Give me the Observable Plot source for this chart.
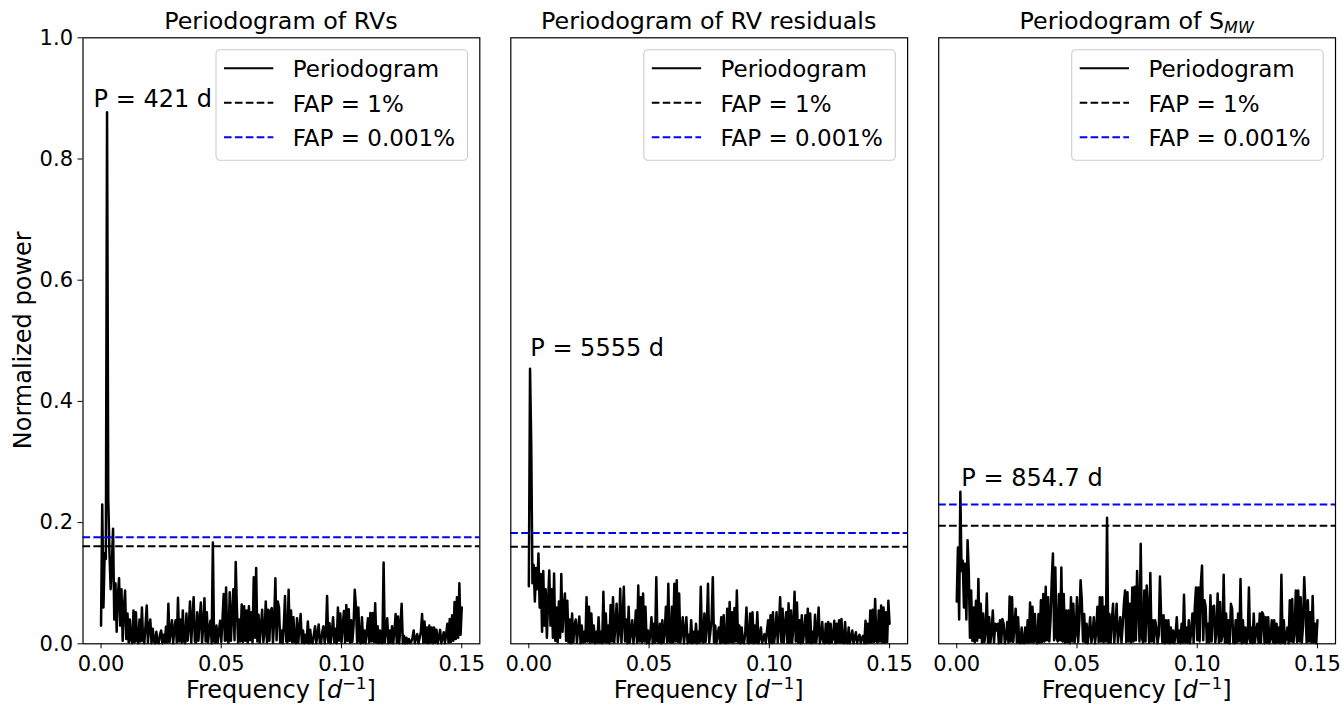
<!DOCTYPE html>
<html>
<head>
<meta charset="utf-8">
<script src="https://cdn.jsdelivr.net/npm/d3@7"></script>
<script src="https://cdn.jsdelivr.net/npm/@observablehq/plot@0.6"></script>
<style>
html, body { margin: 0; padding: 0; background: #fff; }
#chart { position: relative; width: 1341px; height: 704px; font-family: "DejaVu Sans", sans-serif; }
#chart svg { position: absolute; top: 0; background: transparent !important; overflow: visible; }
</style>
</head>
<body>
<div id="chart"></div>
<script>
// ---------------- data ----------------
const freqStep = 0.0005;           // spacing of the frequency grid [1/d]
// normalized power in percent, one value per grid frequency (0 ... 0.15)
const powerRV = [
3, 23, 6, 15, 14, 87.7, 24, 15, 9, 13,
19, 4, 10, 2, 8, 10.8, 3, 9, 0.5, 6,
8.8, 0.8, 5, 0.2, 4, 0.6, 0.1, 5.5, 0.3, 5.2,
0.5, 0.1, 4, 0.4, 6, 0.5, 0.1, 3, 6.3, 0.2,
3, 4, 0.1, 2.5, 0.4, 0.1, 2, 0.2, 0.1, 1.5,
2.2, 0.1, 1.5, 0.2, 2.8, 0.2, 6.6, 0.3, 2, 3.9,
0.1, 2.5, 3.9, 0.2, 7.6, 0.4, 4, 0.2, 5.5, 0.4,
0.1, 5, 0.5, 3, 7, 0.2, 4, 7.7, 0.4, 0.2,
5.2, 0.5, 4, 6.8, 0.2, 3, 7.5, 0.4, 5.2, 0.2,
2.5, 3.8, 0.1, 16.7, 0.4, 0.2, 3, 0.2, 2, 3.8,
0.3, 4, 8.2, 0.5, 9.3, 0.6, 0.2, 8.5, 0.5, 5,
9, 0.6, 13.5, 5.8, 0.2, 4, 0.4, 6.5, 0.3, 6.2,
0.5, 5.5, 0.2, 6.2, 0.6, 5.2, 0.2, 11, 1, 12.5,
0.4, 4.8, 0.2, 3, 5.6, 0.3, 2, 7, 0.2, 5.6,
0.5, 5.4, 5.9, 0.2, 4, 10.8, 0.6, 7, 6, 0.2,
2.2, 0.1, 3, 7.9, 0.4, 0.2, 8.9, 0.5, 5.5, 0.2,
4.4, 0.3, 0.1, 4.2, 0.2, 2.5, 4.9, 0.2, 2.2, 0.1,
1.5, 0.2, 3.7, 0.1, 2.3, 0.2, 0.1, 1.5, 2.9, 0.1,
1.5, 3.2, 0.2, 0.1, 2, 2.9, 0.1, 1.5, 7.9, 0.2,
3.4, 0.1, 2, 4.4, 0.2, 2.5, 0.1, 6, 0.5, 5,
0.2, 3, 5.4, 0.2, 6.4, 0.5, 5.7, 0.2, 3.9, 0.3,
3, 8.9, 6.2, 0.2, 6, 0.4, 0.1, 4.4, 0.2, 2.2,
0.1, 2, 4.2, 0.2, 5.1, 0.4, 5.1, 0.3, 6.7, 0.2,
2.9, 0.1, 2.2, 0.2, 0.1, 13.4, 0.2, 2, 4.2, 0.1,
2.2, 0.2, 2.9, 0.1, 2, 4.9, 0.2, 4.5, 0.1, 3,
6.6, 0.1, 1.3, 0.1, 1, 0.1, 0.8, 0.1, 0.3, 1,
2.2, 0.1, 1, 1.6, 0.1, 1, 2, 4.9, 0.2, 3.7,
0.2, 2.7, 0.1, 3, 0.2, 2.7, 0.1, 2.7, 0.2, 2.3,
0.1, 1, 2.3, 0.1, 1, 1.9, 0.1, 1.5, 3.3, 0.2,
4.1, 0.3, 4.7, 0.5, 6.9, 0.8, 7.7, 1, 10, 1.5, 6
];
const powerResid = [
9.5, 45.4, 32.7, 10, 13, 7, 12.5, 9, 14.9, 6,
11.5, 2, 12, 3, 9, 1, 7, 12.1, 3, 9,
1, 11.6, 0.5, 6, 0.2, 7, 1, 11.5, 2, 6,
8.3, 0.5, 7.1, 0.2, 4, 0.1, 5, 0.2, 3, 4,
0.2, 2.5, 4.5, 0.1, 3, 0.2, 2, 0.3, 7.7, 0.4,
6.1, 0.2, 5, 0.3, 3, 0.1, 2, 0.2, 4.4, 0.2,
2, 0.1, 8.6, 0.3, 5, 0.2, 3, 0.1, 6.4, 0.4,
7.7, 0.2, 3, 6.6, 0.3, 2, 9.1, 0.2, 4, 9.4,
0.4, 4, 0.1, 6.1, 0.2, 2, 3.9, 0.1, 2, 5.5,
0.2, 9.6, 0.4, 7.7, 0.2, 8.3, 0.4, 6.1, 0.1, 2.2,
0.1, 1.5, 4.4, 0.1, 3.3, 0.2, 11, 0.4, 0.2, 3.3,
0.1, 3.9, 0.2, 2, 6.1, 0.2, 9.9, 0.4, 0.2, 6.1,
0.2, 9.9, 0.4, 10.5, 0.3, 8.3, 0.2, 2, 4.4, 0.1,
2, 4.4, 0.1, 1.5, 0.2, 3.9, 0.1, 2, 0.2, 3.3,
0.1, 2, 0.2, 9.4, 0.4, 0.2, 5, 0.3, 3, 9.9,
0.2, 2, 4, 11, 0.2, 3, 0.1, 1.5, 2.7, 0.1,
4.4, 0.2, 4.7, 0.2, 0.1, 5.8, 0.2, 6.9, 0.3, 5.2,
0.2, 5.9, 0.4, 8.8, 0.2, 3, 0.1, 2.7, 0.2, 0.1,
2, 6, 0.2, 0.1, 5, 0.2, 5.2, 0.1, 3, 0.2,
5.2, 0.1, 1, 2.7, 0.1, 1, 1.6, 0.1, 2, 3.9,
0.2, 4.7, 0.1, 5.2, 0.2, 2, 5.2, 0.2, 3, 7.7,
0.3, 5.8, 0.2, 3, 5.2, 0.2, 6.7, 0.2, 5.5, 0.2,
3, 8.6, 0.4, 6.8, 0.2, 3.9, 0.1, 4.7, 0.2, 2,
4.7, 0.2, 5.8, 0.2, 5, 0.1, 2, 0.2, 4.8, 0.2,
2, 6, 0.1, 1, 3.6, 0.2, 0.1, 3.3, 0.2, 3.6,
0.1, 3.3, 0.2, 1, 3.8, 0.1, 3.3, 0.2, 3.9, 0.2,
4.1, 0.2, 0.1, 3.6, 0.2, 0.1, 2.7, 0.1, 1, 2.2,
0.1, 1, 1.9, 0.1, 1, 1.5, 0.1, 1, 1.3, 0.1,
3.8, 0.1, 3.3, 0.2, 5.5, 0.2, 5.6, 0.3, 7.4, 0.4,
0.2, 5.5, 0.4, 6.3, 0.2, 6, 0.2, 5.2, 0.3, 7.1, 3.3
];
const powerSMW = [
7, 15.9, 4, 25.1, 12, 13.7, 6, 13.2, 4, 17.1,
12.1, 1, 8.8, 0.5, 6, 0.2, 7.1, 0.5, 10.7, 1,
6.6, 0.2, 5, 0.3, 2, 8.3, 0.2, 4.4, 0.2, 2,
5.5, 0.2, 3.3, 2.2, 3.3, 0.1, 3.9, 0.2, 4.1, 3.3,
0.1, 1, 3.6, 0.2, 7.8, 0.4, 7.7, 0.3, 3, 5.8,
0.2, 4.4, 0.2, 0.1, 2.7, 0.2, 0.1, 2.7, 0.2, 3.9,
0.2, 6.8, 0.3, 6.1, 0.2, 4.9, 0.4, 0.1, 4.9, 0.2,
7.2, 0.3, 8.2, 0.4, 9.4, 0.6, 7.7, 0.4, 4, 10.5,
14.9, 0.6, 12.6, 1, 0.4, 8.2, 0.6, 12.6, 0.4, 8.2,
0.2, 5.5, 0.3, 5.5, 0.1, 7.7, 0.4, 6.6, 0.2, 2,
7.7, 0.3, 4, 10.5, 7.2, 0.4, 4.9, 0.2, 3.3, 0.1,
2, 4.4, 0.2, 1.5, 4.4, 0.1, 2, 6.1, 0.3, 7.7,
0.4, 7.7, 0.2, 6.1, 0.4, 20.8, 0.2, 4.9, 0.2, 3.9,
6.6, 0.2, 3, 6.6, 0.3, 2, 4.4, 0.2, 3, 6.6,
8.8, 0.3, 8.5, 0.4, 6.6, 0.2, 9.3, 0.4, 9.4, 0.6,
12, 6.1, 0.4, 16.5, 1, 0.2, 8.8, 0.4, 9.6, 5.8,
0.2, 11.7, 0.4, 3.9, 0.2, 3.9, 2.7, 0.1, 1.5, 11.1,
4.4, 0.2, 4.7, 0.1, 3.9, 0.2, 3.9, 0.1, 2.7, 0.2,
2.2, 0.1, 1.5, 4.4, 0.2, 2.2, 0.1, 3.3, 0.2, 8.1,
0.2, 2.7, 0.2, 3.9, 0.1, 2, 5, 0.2, 6.1, 9.3,
0.6, 9.3, 0.4, 9.9, 12.9, 0.6, 7.2, 6.1, 0.2, 3.3,
0.2, 8, 0.4, 6.1, 6.3, 0.2, 2, 8.3, 0.2, 6.9,
0.4, 1.5, 11.4, 0.2, 5, 0.2, 3.9, 0.1, 6.6, 5.8,
0.2, 0.1, 3.9, 0.2, 5, 0.4, 10.7, 0.1, 3.9, 0.2,
2.7, 0.1, 1, 9.3, 0.2, 2.7, 0.1, 5, 0.2, 2,
3.3, 0.2, 5, 0.2, 5.2, 4.7, 0.1, 4.4, 0.2, 4.4,
0.1, 1, 3.9, 0.2, 3.9, 0.1, 3.3, 0.2, 2.7, 0.1,
11.4, 0.2, 3.9, 0.1, 1, 2.7, 0.1, 7.2, 0.4, 7.4,
0.2, 2, 8.8, 0.3, 8.8, 0.4, 7.7, 0.2, 3, 11,
6.1, 0.2, 7.2, 0.4, 5.2, 0.2, 7.9, 0.2, 3.3, 0.1, 3.9
];
const fap1pct   = [0.161, 0.160, 0.195];   // FAP = 1% levels
const fap1e5    = [0.176, 0.183, 0.230];   // FAP = 0.001% levels
const peakText  = ["P = 421 d", "P = 5555 d", "P = 854.7 d"];
const peakTextFreq  = [-0.0031, 0.0006, 0.0019];
const peakTextPower = [0.885, 0.475, 0.261];
const titleMain = ["Periodogram of RVs", "Periodogram of RV residuals", "Periodogram of S"];
const titleSub  = ["", "", "MW"];
const legendLabels = ["Periodogram", "FAP = 1%", "FAP = 0.001%"];
const xTicks = [0, 0.05, 0.10, 0.15];
const yTicks = [0, 0.2, 0.4, 0.6, 0.8, 1.0];
const xDomain = [-0.0075, 0.1575];
const yDomain = [0, 1];

// ---------------- layout ----------------
const FONT = "DejaVu Sans";
const H = 704, TOP = 37.3, BOTTOM = 643.3;
const panels = [
  {left: 0,   width: 490, frameL: 82.5,  frameR: 479.3, power: powerRV},
  {left: 490, width: 422, frameL: 510.3, frameR: 907.1, power: powerResid},
  {left: 912, width: 429, frameL: 938.2, frameR: 1335,  power: powerSMW}
];

const chart = document.getElementById("chart");

panels.forEach((p, k) => {
  const data = p.power.map((v, i) => ({freq: i * freqStep, power: v / 100}));
  const mL = p.frameL - p.left, mR = p.left + p.width - p.frameR;
  const marks = [
    Plot.line(data, {x: "freq", y: "power", stroke: "black", strokeWidth: 2.5, strokeLinejoin: "round"}),
    Plot.ruleY([fap1pct[k]], {stroke: "black", strokeWidth: 2, strokeDasharray: "7.6,3.3"}),
    Plot.ruleY([fap1e5[k]], {stroke: "blue", strokeWidth: 2, strokeDasharray: "7.6,3.3"}),
    Plot.text([0], {x: () => peakTextFreq[k], y: () => peakTextPower[k], text: () => peakText[k],
      textAnchor: "start", lineAnchor: "bottom", fontSize: 24, fill: "black"}),
    Plot.axisX({ticks: xTicks, tickFormat: d3.format(".2f"), tickSize: 5, tickPadding: 7,
      label: null, fontSize: 21, stroke: "black"}),
    Plot.frame({stroke: "black", strokeWidth: 1.2})
  ];
  if (k === 0) {
    marks.push(Plot.axisY({ticks: yTicks, tickFormat: d3.format(".1f"), tickSize: 5, tickPadding: 5,
      label: null, fontSize: 21, stroke: "black"}));
  }
  const svg = Plot.plot({
    width: p.width, height: H,
    marginLeft: mL, marginRight: mR, marginTop: TOP, marginBottom: H - BOTTOM,
    x: {domain: xDomain},
    y: {domain: yDomain, axis: k === 0 ? undefined : null},
    style: {fontFamily: FONT, fontSize: "21px", color: "black", background: "transparent", overflow: "visible"},
    marks
  });
  svg.style.left = p.left + "px";
  chart.appendChild(svg);

  const s = d3.select(svg);
  const cx = (p.frameL + p.frameR) / 2 - p.left;

  // title
  const t = s.append("text").attr("x", cx).attr("y", 29.3).attr("text-anchor", "middle")
    .attr("font-family", FONT).attr("font-size", 23.8).attr("fill", "black");
  t.append("tspan").text(titleMain[k]);
  if (titleSub[k]) {
    t.append("tspan").attr("dy", 4).attr("font-size", 16).attr("font-style", "italic").text(titleSub[k]);
  }

  // x label: Frequency [d^-1]
  const xl = s.append("text").attr("x", cx).attr("y", 697.5).attr("text-anchor", "middle")
    .attr("font-family", FONT).attr("font-size", 24).attr("fill", "black");
  xl.append("tspan").text("Frequency [");
  xl.append("tspan").attr("font-style", "italic").text("d");
  xl.append("tspan").attr("dy", -9).attr("font-size", 16.5).text("\u22121");
  xl.append("tspan").attr("dy", 9).text("]");

  if (k === 0) {
    s.append("text").attr("transform", `translate(31,${(TOP + BOTTOM) / 2}) rotate(-90)`)
      .attr("text-anchor", "middle").attr("font-family", FONT).attr("font-size", 24)
      .attr("fill", "black").text("Normalized power");
  }

  // legend
  const lw = 251.5, lh = 110.5;
  const lx = p.frameR - p.left - 11.8 - lw, ly = TOP + 12.4;
  const g = s.append("g").attr("transform", `translate(${lx},${ly})`);
  g.append("rect").attr("width", lw).attr("height", lh).attr("rx", 4).attr("ry", 4)
    .attr("fill", "white").attr("fill-opacity", 0.8).attr("stroke", "#cccccc").attr("stroke-width", 1.1);
  const legendStyles = [
    {stroke: "black", dash: null},
    {stroke: "black", dash: "7.6,3.3"},
    {stroke: "blue", dash: "7.6,3.3"}
  ];
  legendLabels.forEach((lab, j) => {
    const yy = 18.6 + j * 34.5;
    const ln = g.append("line").attr("x1", 8).attr("x2", 57.3).attr("y1", yy).attr("y2", yy)
      .attr("stroke", legendStyles[j].stroke).attr("stroke-width", 2);
    if (legendStyles[j].dash) ln.attr("stroke-dasharray", legendStyles[j].dash);
    g.append("text").attr("x", 76.7).attr("y", yy + 9).attr("text-anchor", "start")
      .attr("font-family", FONT).attr("font-size", 23).attr("fill", "black").text(lab);
  });
});
</script>
</body>
</html>
